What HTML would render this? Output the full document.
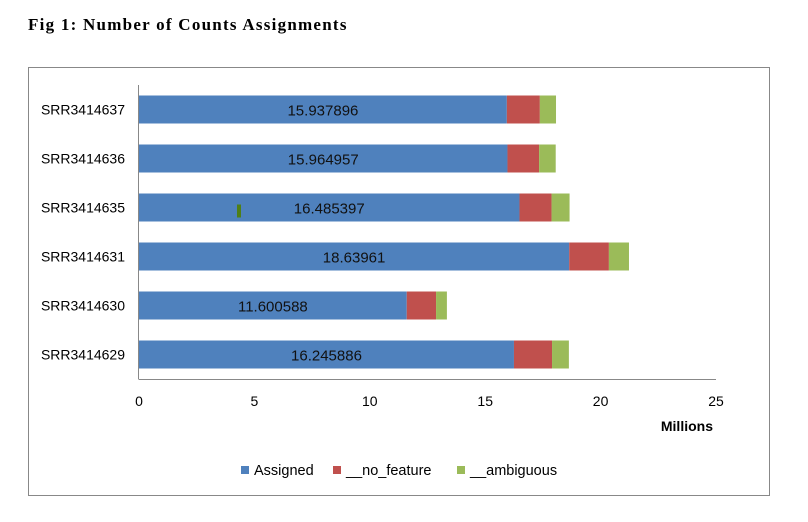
<!DOCTYPE html>
<html><head><meta charset="utf-8"><style>
body{margin:0;background:#fff;width:808px;height:522px;overflow:hidden}
svg{display:block}
</style></head><body>
<svg width="808" height="522">
<text x="28" y="30" font-family="Liberation Serif, serif" font-weight="bold" font-size="17" letter-spacing="1.25">Fig 1: Number  of Counts Assignments</text>
<rect x="28.5" y="67.5" width="741" height="428" fill="#fff" stroke="#888"/>
<g id="plot"></g>
</svg>
<script>
const categories=["SRR3414637","SRR3414636","SRR3414635","SRR3414631","SRR3414630","SRR3414629"];
const assigned=[15.937896,15.964957,16.485397,18.63961,11.600588,16.245886];
const noFeature=[1.43,1.37,1.39,1.72,1.27,1.65];
const ambiguous=[0.70,0.72,0.78,0.87,0.47,0.73];
const xTicks=[0,5,10,15,20,25];
const seriesNames=["Assigned","__no_feature","__ambiguous"];
const colors=["#4f81bd","#c0504d","#9bbb59"];
const NS="http://www.w3.org/2000/svg";
const g=document.getElementById('plot');
const x0=139,x1=716,yTop=85,yBot=379;
const xs=v=>x0+v/25*(x1-x0);
const band=(yBot-yTop)/categories.length;
const yc=i=>yTop+band*(i+0.5);
function mk(t,a,p){const e=document.createElementNS(NS,t);for(const k in a)e.setAttribute(k,a[k]);(p||g).appendChild(e);return e;}
let ax=mk('line',{x1:x0-0.5,x2:x0-0.5,y1:yTop,y2:yBot,stroke:'#888'});


let bx=mk('line',{x1:x0-0.5,x2:x1,y1:yBot+0.5,y2:yBot+0.5,stroke:'#888'});


xTicks.forEach(t=>{
  const tl=mk('text',{x:xs(t),y:yBot+27,'text-anchor':'middle','font-family':'Liberation Sans, sans-serif','font-size':14,fill:'#000'});
  tl.textContent=t;
  
  
});
const at=mk('text',{x:713,y:431,'text-anchor':'end','font-family':'Liberation Sans, sans-serif','font-size':14,'font-weight':'bold'});
at.textContent='Millions';


categories.forEach((c,i)=>{
  const y=yc(i),h=28;
  const lab=mk('text',{x:125,y:y+5,'text-anchor':'end','font-family':'Liberation Sans, sans-serif','font-size':14});
  lab.textContent=c;
  
  
  const vals=[assigned[i],noFeature[i],ambiguous[i]];
  let acc=0;
  vals.forEach((v,k)=>{
    const r=mk('rect',{x:xs(acc),y:y-h/2,width:xs(acc+v)-xs(acc),height:h,fill:colors[k]});
    
    
    acc+=v;
  });
  const vt=mk('text',{x:(xs(0)+xs(assigned[i]))/2,y:y+6,'text-anchor':'middle','font-family':'Liberation Sans, sans-serif','font-size':15,fill:'#111'});
  vt.textContent=assigned[i];
  
  
});
const mark=mk('rect',{x:237,y:yc(2)-3,width:4,height:13,fill:'#4f7f17'});


const lx=[241,333,457];
seriesNames.forEach((n,k)=>{
  const sw=mk('rect',{x:lx[k],y:466,width:8,height:8,fill:colors[k]});
  
  
  const lt=mk('text',{x:lx[k]+13,y:475,'font-family':'Liberation Sans, sans-serif','font-size':14.5});
  lt.textContent=n;
  
  
});
</script>
</body></html>
